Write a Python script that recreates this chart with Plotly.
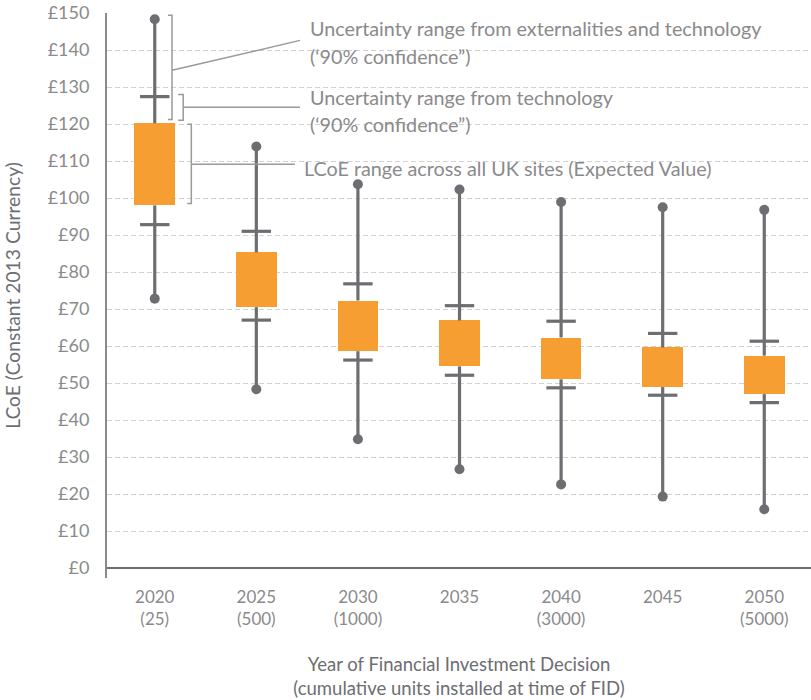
import plotly.graph_objects as go

# ---- data ----
years = ["2020", "2025", "2030", "2035", "2040", "2045", "2050"]
units = ["(25)", "(500)", "(1000)", "", "(3000)", "", "(5000)"]
ext_min = [72.8, 48.3, 34.8, 26.7, 22.6, 19.3, 15.9]
tech_low = [92.8, 67.0, 56.2, 52.1, 48.7, 46.7, 44.7]
box_low = [98.0, 70.5, 58.6, 54.5, 51.0, 48.9, 47.0]
box_high = [120.2, 85.3, 72.3, 66.9, 62.3, 59.6, 57.4]
tech_high = [127.4, 91.0, 76.8, 70.9, 66.7, 63.4, 61.3]
ext_max = [148.3, 113.9, 103.7, 102.3, 98.9, 97.5, 96.8]
y_ticks = list(range(0, 151, 10))
y_tick_text = ["£%d" % v for v in y_ticks]

ORANGE = "#F79E32"
DARK = "#6D6E71"
TEXT = "#8A8A8C"
LEADER = "#9A9A9C"
FONT = "Lato"

xs = list(range(len(years)))
ticktext = [y + ("<br>" + u if u else "") for y, u in zip(years, units)]

fig = go.Figure()

# whisker segments (outside the box)
wx, wy = [], []
for i in xs:
    wx += [i, i, None, i, i, None]
    wy += [box_high[i], ext_max[i], None, box_low[i], ext_min[i], None]
fig.add_trace(go.Scatter(x=wx, y=wy, mode="lines",
                         line=dict(color=DARK, width=3.2),
                         hoverinfo="skip", showlegend=False))
# end dots
fig.add_trace(go.Scatter(x=xs + xs, y=ext_max + ext_min, mode="markers",
                         marker=dict(symbol="circle", size=10, color=DARK),
                         showlegend=False))
# technology range caps
fig.add_trace(go.Scatter(x=xs + xs, y=tech_high + tech_low, mode="markers",
                         marker=dict(symbol="line-ew", size=21,
                                     line=dict(color=DARK, width=3.2)),
                         showlegend=False))
# boxes
fig.add_trace(go.Bar(x=xs, y=[h - l for h, l in zip(box_high, box_low)],
                     base=box_low, width=0.4, marker=dict(color=ORANGE, line=dict(width=0)),
                     showlegend=False))

# ---- annotation brackets and leaders (decoration) ----
def bracket(x, y0, y1, d=0.04):
    return dict(type="path", xref="x", yref="y",
                path=f"M {x-d},{y0} L {x},{y0} L {x},{y1} L {x-d},{y1}",
                line=dict(color=LEADER, width=1.5))

shapes = [
    bracket(0.17, 149.4, 121.2),
    dict(type="line", xref="x", yref="y", x0=0.17, y0=134.5, x1=1.43, y1=142.6,
         line=dict(color=LEADER, width=1.5)),
    bracket(0.28, 128.0, 121.0, 0.05),
    dict(type="line", xref="x", yref="y", x0=0.28, y0=124.5, x1=1.43, y1=124.5,
         line=dict(color=LEADER, width=1.5)),
    bracket(0.36, 119.9, 98.5),
    dict(type="line", xref="x", yref="y", x0=0.36, y0=109.1, x1=1.38, y1=109.1,
         line=dict(color=LEADER, width=1.5)),
]

notes = [
    (1.51, 145.9, "Uncertainty range from externalities and technology"),
    (1.51, 138.3, "(‘90% confidence”)"),
    (1.51, 127.4, "Uncertainty range from technology"),
    (1.51, 120.1, "(‘90% confidence”)"),
    (1.45, 108.2, "LCoE range across all UK sites (Expected Value)"),
]
annotations = [dict(x=x, y=y, xref="x", yref="y", text=t, showarrow=False,
                    xanchor="left", yanchor="middle",
                    font=dict(family=FONT, size=19.8, color=TEXT))
               for x, y, t in notes]

fig.update_layout(
    width=811, height=700,
    margin=dict(l=107, r=0, t=13, b=122),
    paper_bgcolor="white", plot_bgcolor="white",
    font=dict(family=FONT, size=17, color=TEXT),
    shapes=shapes, annotations=annotations,
    bargap=0,
    xaxis=dict(range=[-0.47, 6.46], tickmode="array", tickvals=xs, ticktext=ticktext,
               showgrid=False, zeroline=False, showline=False, ticks="",
               ticklabelstandoff=7,
               tickfont=dict(family=FONT, size=17, color=TEXT),
               title=dict(text="Year of Financial Investment Decision<br>(cumulative units installed at time of FID)",
                          font=dict(family=FONT, size=18.5, color="#6D6E71"), standoff=29)),
    yaxis=dict(range=[-2.7, 150], tickmode="array", tickvals=y_ticks, ticktext=y_tick_text,
               showgrid=True, gridcolor="#D2D2D2", griddash="5px,3px", gridwidth=1,
               zeroline=True, zerolinecolor=DARK, zerolinewidth=2,
               showline=True, linecolor="#8A8A8C", linewidth=2,
               ticks="", ticklabelstandoff=12,
               tickfont=dict(family=FONT, size=18, color=TEXT),
               title=dict(text="LCoE (Constant 2013 Currency)",
                          font=dict(family=FONT, size=19.3, color="#6D6E71"), standoff=22)),
)

fig.write_html("out.html", config={"displayModeBar": False},
               post_script="document.body.style.margin='0px';document.body.style.overflow='hidden';")
